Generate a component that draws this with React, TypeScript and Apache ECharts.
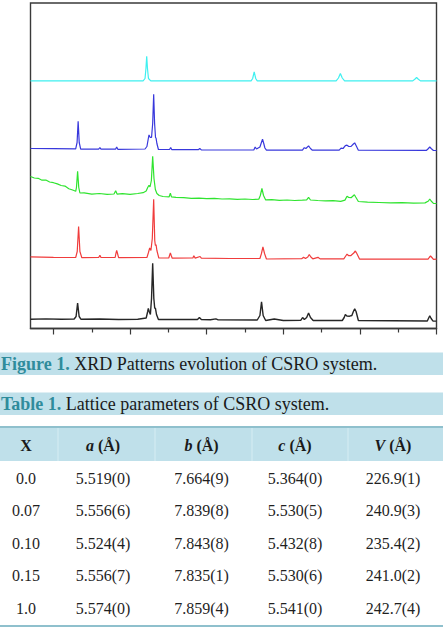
import React, { useEffect, useRef } from 'react';
import * as echarts from 'echarts';

// 2θ axis range (degrees) and tick positions
const TWO_THETA_MIN = 17;
const TWO_THETA_MAX = 70;
const majorTicks = [20, 30, 40, 50, 60, 70];
const minorTicks = [25, 35, 45, 55, 65];

// XRD patterns, stacked (2θ in degrees, intensity in a.u.)
const patternX000: [number, number][] = [
  [17, 9.3], [19, 9.6], [21, 9.2], [22.7, 9.5], [22.95, 12], [23.15, 25.3], [23.35, 12], [23.6, 9.2],
  [26, 9.5], [28.5, 9.0], [31, 9.2], [32.1, 10.5], [32.3, 17], [32.38, 20], [32.5, 17], [32.65, 14],
  [32.8, 30], [32.95, 65.3], [33.1, 30], [33.22, 20], [33.3, 20.6], [33.45, 14], [33.7, 9], [36, 9],
  [38.8, 9], [39.05, 11], [39.3, 9], [40.5, 8.8], [41.2, 9.6], [41.5, 8.6], [46.6, 8.5], [46.95, 13],
  [47.16, 26.6], [47.37, 13], [47.7, 8], [48.82, 9.5], [50, 8], [52.3, 8.3], [52.52, 11], [52.75, 9],
  [53.05, 11], [53.3, 15.6], [53.55, 11], [53.9, 8], [57.7, 8], [57.95, 11], [58.1, 14], [58.3, 12.5],
  [58.66, 12.3], [58.95, 13], [59.15, 17], [59.32, 19.6], [59.5, 17], [59.8, 8], [68.8, 7.5],
  [68.95, 10], [69.12, 12.8], [69.3, 10], [69.55, 7.4], [70, 7.4],
];

const patternX007: [number, number][] = [
  [17, 71.6], [20, 71.2], [22.9, 71], [23.1, 77], [23.28, 102], [23.45, 77], [23.7, 70.8], [25.9, 71],
  [26.06, 73.3], [26.2, 71], [28.05, 71], [28.15, 75], [28.25, 78.2], [28.36, 75], [28.5, 70.8],
  [32.2, 71], [32.4, 76], [32.56, 80.6], [32.72, 78], [32.9, 90], [33.08, 129.3], [33.22, 88],
  [33.3, 83], [33.39, 83.8], [33.5, 78], [33.75, 70.5], [35.05, 70.5], [35.15, 73], [35.26, 75.6],
  [35.37, 73], [35.5, 70.3], [38.2, 70.5], [38.32, 72.8], [38.5, 70.4], [39.14, 72], [39.3, 70.3],
  [43, 70], [46.95, 70], [47.15, 75], [47.34, 81.6], [47.55, 75], [47.8, 69.5], [52.4, 69.8],
  [52.65, 71.3], [52.9, 70], [53.2, 71.5], [53.39, 74], [53.6, 71.5], [53.85, 69.7], [54.53, 71.2],
  [54.8, 69.6], [57.9, 69.6], [58.15, 72.5], [58.32, 74.3], [58.55, 72.8], [58.8, 72.8], [59.2, 75.5],
  [59.41, 77.5], [59.6, 75], [59.95, 69.4], [68.9, 69.3], [69.05, 71], [69.22, 72.5], [69.4, 71],
  [69.6, 69.2], [70, 69.3],
];

const patternX010: [number, number][] = [
  [17, 152], [17.5, 150.5], [18, 150.2], [18.5, 148.3], [19, 148.5], [19.5, 146.5], [20, 145.8],
  [20.5, 144.6], [21, 143], [21.5, 142.4], [22, 139.8], [22.5, 138.5], [22.9, 137.2], [23.0, 141],
  [23.15, 157.3], [23.3, 141], [23.45, 135.5], [24, 135.6], [25, 134.3], [26, 135], [27, 134.2],
  [27.9, 134.5], [28.12, 137.8], [28.3, 134.4], [29, 134.8], [30, 134.2], [31, 135], [31.7, 135.8],
  [32.1, 137.5], [32.3, 141], [32.47, 143.3], [32.6, 141.5], [32.78, 148], [32.95, 172.3],
  [33.12, 150], [33.3, 139], [33.5, 135], [33.8, 133], [34.3, 132], [35.1, 131.7], [35.26, 135.3],
  [35.4, 131.6], [36, 131.2], [37, 130.8], [38, 130.2], [39, 130.4], [40, 129.8], [41, 130.2],
  [42, 129.5], [43, 129.6], [44, 129.2], [45, 129.5], [46, 129], [46.8, 129.3], [47.0, 133],
  [47.21, 140], [47.42, 133], [47.7, 128.6], [48.5, 128.8], [49.5, 128.2], [50.5, 128.5], [51.5, 128],
  [52.5, 128.3], [53.05, 128.6], [53.3, 131.2], [53.55, 128.5], [54.5, 128], [55.5, 127.6],
  [56.5, 127.8], [57.5, 127.2], [58.05, 128.4], [58.32, 132.3], [58.55, 131], [58.85, 130.8],
  [59.1, 132.5], [59.28, 133.7], [59.45, 131.5], [59.8, 127], [61, 126.3], [62.5, 126], [64, 125.6],
  [65.5, 125.8], [67, 125.4], [68.5, 125.6], [68.95, 127.5], [69.12, 129.5], [69.3, 127.5],
  [69.6, 125.2], [70, 125],
];

const patternX015: [number, number][] = [
  [17, 180], [20, 179.8], [22.9, 179.6], [23.08, 186], [23.22, 207.3], [23.36, 186], [23.55, 179.4],
  [25.9, 179.4], [26.06, 181], [26.2, 179.4], [28.1, 179.3], [28.25, 181.5], [28.4, 179.2],
  [31.95, 179.5], [32.2, 182], [32.38, 190], [32.47, 193.6], [32.62, 191.2], [32.8, 191], [32.95, 205],
  [33.08, 234.3], [33.2, 205], [33.32, 191], [33.39, 190.3], [33.5, 185], [33.7, 179], [35.15, 179],
  [35.3, 181], [35.45, 178.8], [38.9, 178.8], [39.1, 180], [39.3, 178.6], [46.15, 178.5],
  [46.33, 181.5], [46.5, 179.5], [46.95, 181.5], [47.1, 185], [47.29, 189.3], [47.45, 185],
  [47.6, 180.5], [47.8, 178.3], [52.5, 178.4], [52.74, 180.8], [52.95, 180], [53.3, 182.6],
  [53.55, 180], [53.8, 178.3], [57.3, 178.4], [57.54, 180.3], [57.8, 180], [58.1, 182.8],
  [58.32, 183.3], [58.55, 182], [58.85, 182.2], [59.15, 184.5], [59.32, 185.6], [59.5, 183],
  [59.8, 178.3], [68.7, 178.2], [68.95, 180], [69.12, 181.6], [69.3, 180], [69.6, 178], [70, 178],
];

const patternX100: [number, number][] = [
  [17, 247.6], [31.7, 247.6], [31.95, 250], [32.07, 260], [32.17, 272.3], [32.27, 260], [32.4, 250],
  [32.7, 247.6], [45.8, 247.6], [46.0, 250], [46.2, 256.6], [46.4, 250], [46.6, 247.6], [56.9, 247.6],
  [57.2, 250.5], [57.45, 255], [57.7, 250.5], [58.0, 247.6], [66.9, 247.6], [67.2, 249.5], [67.4, 251],
  [67.6, 249.5], [67.9, 247.6], [70, 247.6],
];

const patternNames = ['x = 0.0', 'x = 0.07', 'x = 0.10', 'x = 0.15', 'x = 1.0'];
const patternData = [patternX000, patternX007, patternX010, patternX015, patternX100];
const patternColors = ['#262626', '#f03c3c', '#2fe42f', '#3838dc', '#3ff0f0'];

// Captions
const figureTag = 'Figure 1.';
const figureText = 'XRD Patterns evolution of CSRO system.';
const tableTag = 'Table 1.';
const tableText = 'Lattice parameters of CSRO system.';

// Table 1: lattice parameters
const headerSymbols = ['X', 'a', 'b', 'c', 'V'];
const headerItalic = [false, true, true, true, true];
const headerUnit = ['', ' (Å)', ' (Å)', ' (Å)', ' (Å)'];
const tableX = ['0.0', '0.07', '0.10', '0.15', '1.0'];
const tableA = ['5.519(0)', '5.556(6)', '5.524(4)', '5.556(7)', '5.574(0)'];
const tableB = ['7.664(9)', '7.839(8)', '7.843(8)', '7.835(1)', '7.859(4)'];
const tableC = ['5.364(0)', '5.530(5)', '5.432(8)', '5.530(6)', '5.541(0)'];
const tableV = ['226.9(1)', '240.9(3)', '235.4(2)', '241.0(2)', '242.7(4)'];

const SERIF = 'Liberation Serif';
const BAND = '#bfe0ea';
const TEAL = '#2f8c9c';
const RULE = '#8fc0cd';

function buildGraphic() {
  const els: any[] = [];
  // caption bands
  els.push({ type: 'rect', shape: { x: 0, y: 352.5, width: 443, height: 22.5 }, style: { fill: BAND }, silent: true });
  els.push({ type: 'rect', shape: { x: 0, y: 392.5, width: 443, height: 22.5 }, style: { fill: BAND }, silent: true });
  const capRich = {
    t: { fontFamily: SERIF, fontSize: 18, fontWeight: 'bold', fill: TEAL },
    n: { fontFamily: SERIF, fontSize: 18, fill: '#1a1a1a' },
  };
  els.push({
    type: 'text', x: 1, y: 364,
    style: { text: `{t|${figureTag}}{n| ${figureText}}`, rich: capRich, verticalAlign: 'middle', align: 'left' },
  });
  els.push({
    type: 'text', x: 1, y: 404,
    style: { text: `{t|${tableTag}}{n| ${tableText}}`, rich: capRich, verticalAlign: 'middle', align: 'left' },
  });

  // table frame
  els.push({ type: 'rect', shape: { x: 0, y: 428, width: 443, height: 33 }, style: { fill: BAND }, silent: true });
  els.push({ type: 'line', shape: { x1: 0, y1: 427, x2: 443, y2: 427 }, style: { stroke: RULE, lineWidth: 2 } });
  els.push({ type: 'line', shape: { x1: 0, y1: 626, x2: 443, y2: 626 }, style: { stroke: RULE, lineWidth: 2 } });
  const seps = [58, 155, 252, 348];
  seps.forEach((sx) => {
    els.push({ type: 'line', shape: { x1: sx, y1: 428, x2: sx, y2: 461 }, style: { stroke: '#d6edf3', lineWidth: 1 } });
  });

  const colCenters = [26, 103, 201.5, 295, 393];
  const headRich = {
    i: { fontFamily: SERIF, fontSize: 16, fontWeight: 'bold', fontStyle: 'italic', fill: '#1a1a1a' },
    b: { fontFamily: SERIF, fontSize: 16, fontWeight: 'bold', fill: '#1a1a1a' },
  };
  headerSymbols.forEach((sym, i) => {
    const text = headerItalic[i] ? `{i|${sym}}{b|${headerUnit[i]}}` : `{b|${sym}${headerUnit[i]}}`;
    els.push({
      type: 'text', x: colCenters[i], y: 445,
      style: { text, rich: headRich, align: 'center', verticalAlign: 'middle' },
    });
  });

  const cols = [tableX, tableA, tableB, tableC, tableV];
  const rowTop = 478.3;
  const rowStep = 32.5;
  tableX.forEach((_, r) => {
    cols.forEach((col, c) => {
      els.push({
        type: 'text', x: colCenters[c], y: rowTop + r * rowStep,
        style: {
          text: col[r], fontFamily: SERIF, fontSize: 16, fill: '#1f1f1f',
          align: 'center', verticalAlign: 'middle',
        },
      });
    });
  });
  return els;
}

export default function App() {
  const ref = useRef<HTMLDivElement>(null);
  useEffect(() => {
    if (!ref.current) return;
    const chart = echarts.init(ref.current, undefined, { renderer: 'svg' });
    const frame = '#3a3a3a';
    chart.setOption({
      animation: false,
      backgroundColor: '#ffffff',
      grid: {
        left: 30.5, right: 6.5, top: 3, bottom: 304.5,
        show: true, borderColor: frame, borderWidth: 1.4, backgroundColor: 'transparent',
      },
      xAxis: [
        {
          type: 'value', min: TWO_THETA_MIN, max: TWO_THETA_MAX, position: 'bottom',
          axisLine: { show: true, onZero: false, lineStyle: { color: frame, width: 1.4 } },
          axisTick: { show: true, inside: false, length: 6, customValues: majorTicks, lineStyle: { color: frame, width: 1.2 } },
          axisLabel: { show: false },
          splitLine: { show: false },
        },
        {
          type: 'value', min: TWO_THETA_MIN, max: TWO_THETA_MAX, position: 'bottom',
          axisLine: { show: false, onZero: false },
          axisTick: { show: true, inside: false, length: 4, customValues: minorTicks, lineStyle: { color: frame, width: 1.2 } },
          axisLabel: { show: false },
          splitLine: { show: false },
        },
      ],
      yAxis: { type: 'value', min: 0, max: 325.5, show: false },
      series: patternData.map((data, i) => ({
        name: patternNames[i],
        type: 'line',
        xAxisIndex: 0,
        data,
        symbol: 'none',
        showSymbol: false,
        lineStyle: { color: patternColors[i], width: i === 0 ? 1.4 : 1.2 },
        itemStyle: { color: patternColors[i] },
        z: 3,
      })),
      graphic: buildGraphic(),
    });
    return () => chart.dispose();
  }, []);
  return <div ref={ref} style={{ position: 'absolute', left: 0, top: 0, width: 443, height: 633 }} />;
}
